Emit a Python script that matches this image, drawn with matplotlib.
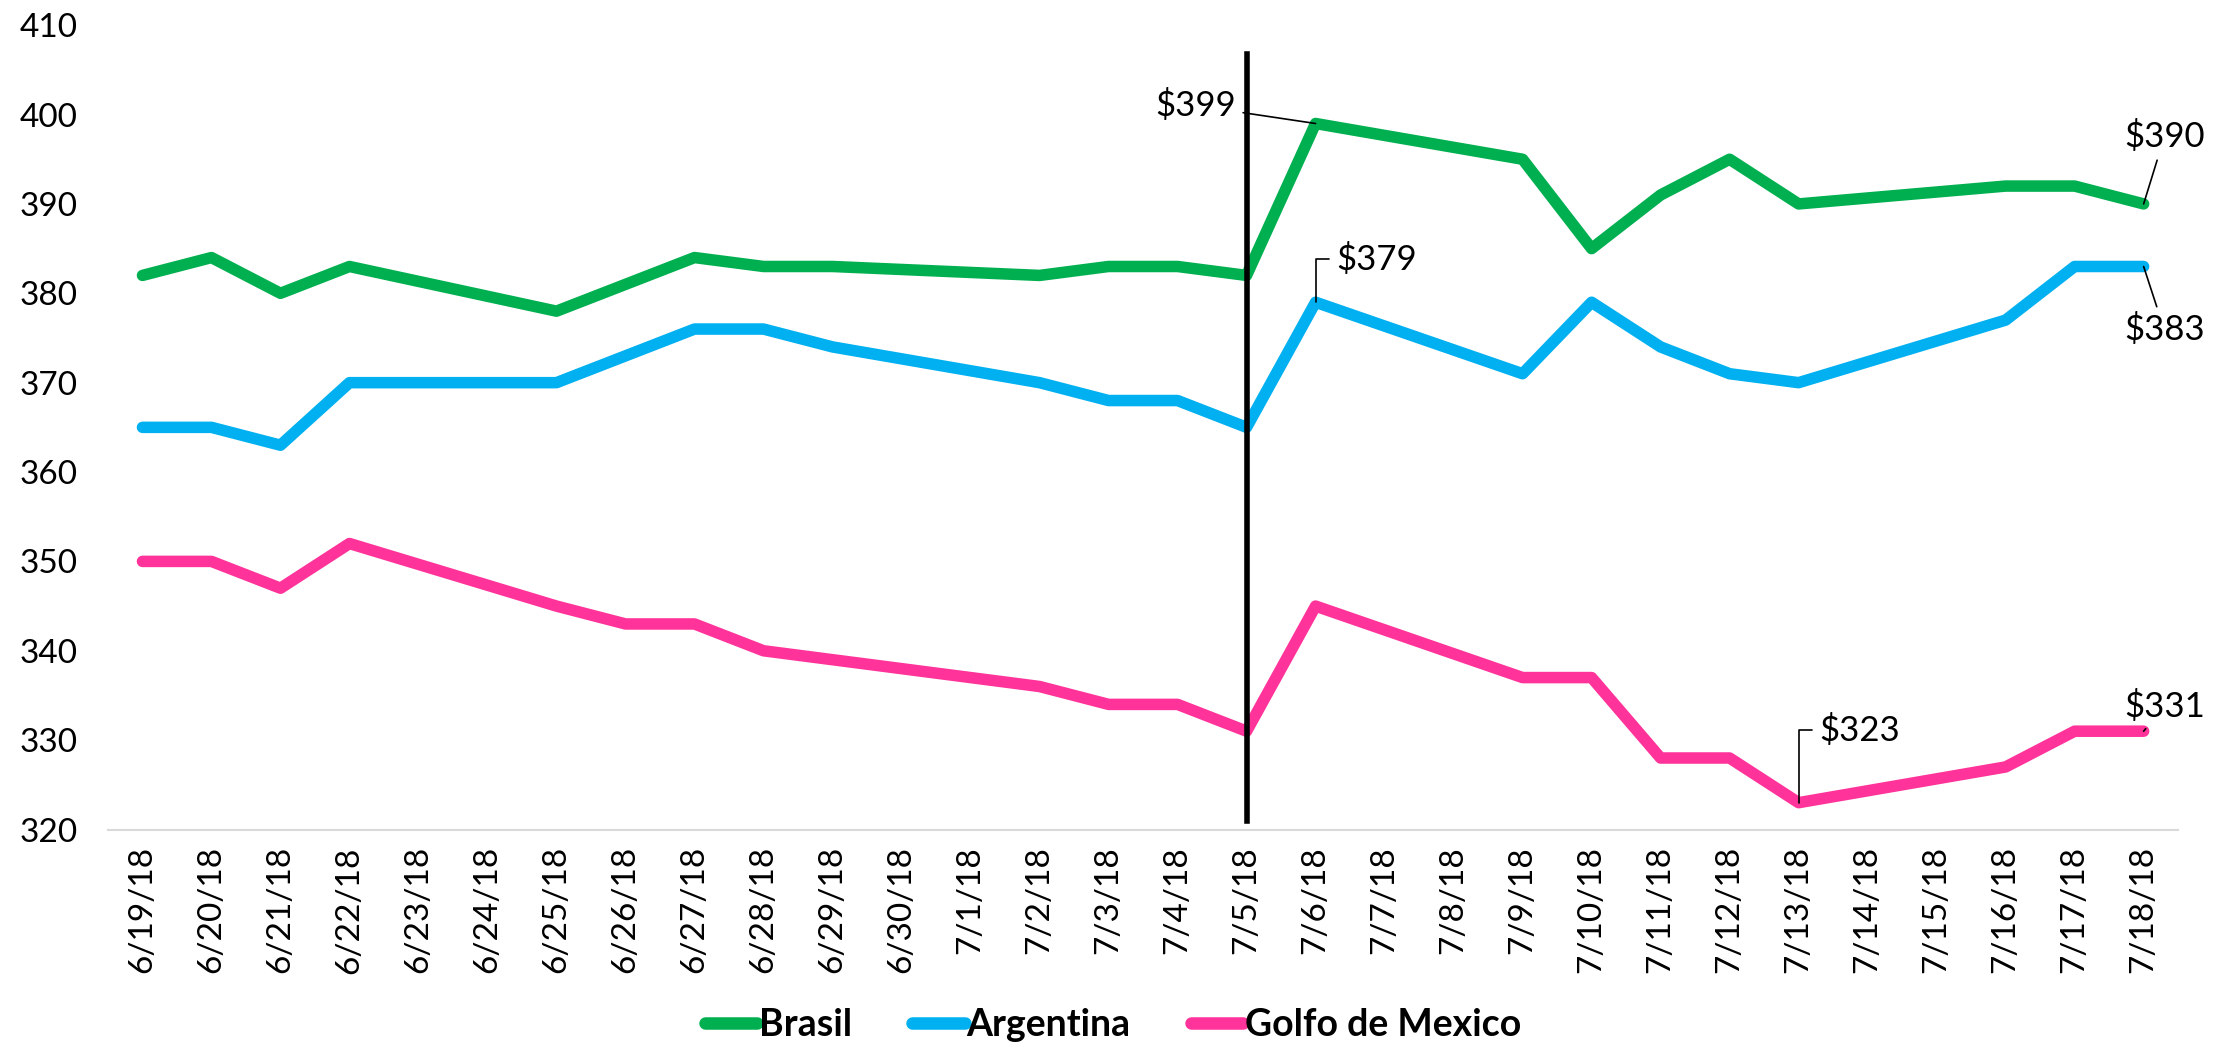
import matplotlib
matplotlib.use("Agg")
import matplotlib.pyplot as plt

plt.rcParams['font.family'] = ['Lato', 'DejaVu Sans']

# Categories (weekends have no quotes)
dates = ['6/19/18', '6/20/18', '6/21/18', '6/22/18', '6/23/18', '6/24/18', '6/25/18',
         '6/26/18', '6/27/18', '6/28/18', '6/29/18', '6/30/18', '7/1/18', '7/2/18',
         '7/3/18', '7/4/18', '7/5/18', '7/6/18', '7/7/18', '7/8/18', '7/9/18',
         '7/10/18', '7/11/18', '7/12/18', '7/13/18', '7/14/18', '7/15/18', '7/16/18',
         '7/17/18', '7/18/18']

brasil = [382, 384, 380, 383, None, None, 378, 381, 384, 383, 383, None, None, 382,
          383, 383, 382, 399, None, None, 395, 385, 391, 395, 390, None, None, 392,
          392, 390]
argentina = [365, 365, 363, 370, None, None, 370, 373, 376, 376, 374, None, None, 370,
             368, 368, 365, 379, None, None, 371, 379, 374, 371, 370, None, None, 377,
             383, 383]
golfo = [350, 350, 347, 352, None, None, 345, 343, 343, 340, 339, None, None, 336,
         334, 334, 331, 345, None, None, 337, 337, 328, 328, 323, None, None, 327,
         331, 331]

series = [('Brasil', brasil, '#00B050'),
          ('Argentina', argentina, '#00B0F0'),
          ('Golfo de Mexico', golfo, '#FF3399')]

fig = plt.figure(figsize=(22.26, 10.5), dpi=100)
ax = fig.add_axes([0.0485, 0.21, 0.93, 0.766])

for name, vals, color in series:
    xs = [i for i, v in enumerate(vals) if v is not None]
    ys = [v for v in vals if v is not None]
    ax.plot(xs, ys, color=color, lw=8.3, label=name, solid_capstyle='round',
            solid_joinstyle='round')

# vertical marker on 7/5
x_mark = dates.index('7/5/18')
ax.plot([x_mark, x_mark], [321, 406.8], color='black', lw=4)

# price labels
notes = [('$399', '7/6/18', 399, (15.85, 401.0), 'right', 'arc3'),
         ('$379', '7/6/18', 379, (17.3, 383.8), 'left', 'angle,angleA=0,angleB=90,rad=0'),
         ('$390', '7/18/18', 390, (29.3, 397.5), 'center', 'arc3'),
         ('$383', '7/18/18', 383, (29.3, 375.9), 'center', 'arc3'),
         ('$331', '7/18/18', 331, (29.3, 333.8), 'center', 'arc3'),
         ('$323', '7/13/18', 323, (24.3, 331.1), 'left', 'angle,angleA=0,angleB=90,rad=0')]
for txt, d, v, pos, ha, conn in notes:
    ax.annotate(txt, xy=(dates.index(d), v), xytext=pos, ha=ha, va='center',
                fontsize=25,
                arrowprops=dict(arrowstyle='-', color='black', lw=1.2,
                                connectionstyle=conn, shrinkA=3, shrinkB=0))

ax.set_xlim(-0.5, len(dates) - 0.5)
ax.set_ylim(320, 410)
ax.set_yticks(range(320, 411, 10))
ax.set_xticks(range(len(dates)))
ax.set_xticklabels(dates, rotation=90, fontsize=24)
ax.tick_params(axis='y', labelsize=24, length=0, pad=22)
ax.tick_params(axis='x', length=0, pad=12)

for s in ['top', 'right', 'left']:
    ax.spines[s].set_visible(False)
ax.spines['bottom'].set_color('#D9D9D9')
ax.spines['bottom'].set_linewidth(1.5)

leg = fig.legend(loc='center', bbox_to_anchor=(0.5, 0.024), ncol=3, frameon=False,
                 prop={'size': 27, 'weight': 'bold'}, handlelength=1.4,
                 handletextpad=0.05, columnspacing=1.6)
for line in leg.get_lines():
    line.set_solid_capstyle('round')
    line.set_linewidth(9)

plt.savefig('out.png', dpi=100)
